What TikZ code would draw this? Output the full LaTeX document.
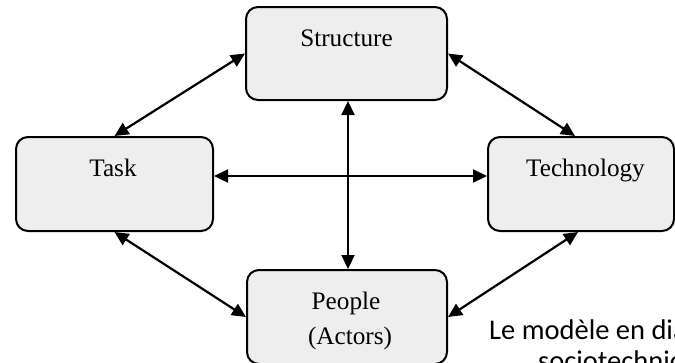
\documentclass[tikz,border=0pt]{standalone}
\usepackage{fontspec}
\setmainfont{Liberation Serif}
\newfontfamily\capfont{Carlito}
\usetikzlibrary{arrows.meta}
\definecolor{boxfill}{HTML}{EEEEEE}
\tikzset{
  box/.style={draw=black, line width=2pt, fill=boxfill, rounded corners=12pt,
    rectangle, inner sep=0pt},
  lbl/.style={anchor=base, inner sep=0pt, font=\fontsize{25.2}{30}\selectfont},
  captext/.style={anchor=base west, inner sep=0pt, font=\capfont\fontsize{28.5}{34}\selectfont},
  link/.style={line width=2.2pt, {Triangle[length=14pt,width=13pt]}-{Triangle[length=14pt,width=13pt]}}
}
\begin{document}
\begin{tikzpicture}[x=1pt,y=-1pt]
\useasboundingbox (0,0) rectangle (675,362);
\clip (0,0) rectangle (675,362);
% boxes
\node[box, minimum width=201pt, minimum height=93pt] (S) at (346.5,53.5) {};
\node[box, minimum width=197pt, minimum height=94pt] (T) at (114.5,184) {};
\node[box, minimum width=186pt, minimum height=94pt] (K) at (581,184) {};
\node[box, minimum width=200pt, minimum height=94pt] (P) at (347,317) {};
% labels
\node[lbl] (Sl) at (346.5,46) {Structure};
\node[lbl] (Tl) at (113,176) {Task};
\node[lbl] (Kl) at (585.5,176) {Technology};
\node[lbl] (Pl1) at (346,309) {People};
\node[lbl] (Pl2) at (350,344) {(Actors)};
% caption (cut by the page edge, as in the reference)
\node[captext] (C1) at (489,339) {Le modèle en dia};
\node[captext] (C2) at (538,370) {sociotechnic};
% connectors
\draw[link] (S.west) -- (T.north);
\draw[link] (S.east) -- ([xshift=-6pt]K.north);
\draw[link] (T.south) -- (P.west);
\draw[link] ([xshift=-3pt]K.south) -- (P.east);
\draw[link] ([yshift=8pt]T.east) -- ([yshift=8pt]K.west);
\draw[link] ([xshift=1.5pt]S.south) -- ([xshift=1pt]P.north);
\end{tikzpicture}
\end{document}
